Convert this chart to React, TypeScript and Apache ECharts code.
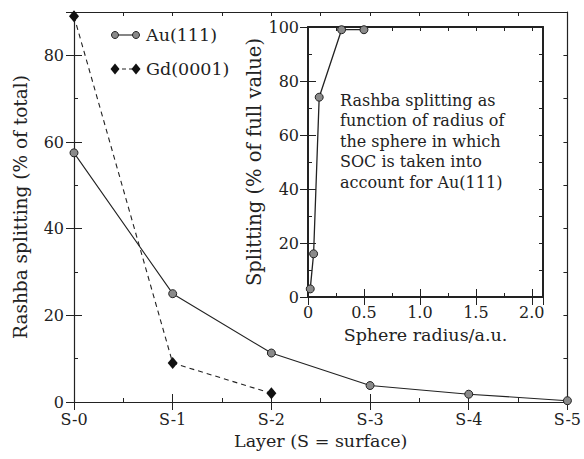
import React, { useEffect, useRef } from "react";
import * as echarts from "echarts";

const layerLabels = ["S-0", "S-1", "S-2", "S-3", "S-4", "S-5"];
const auLayers = [0, 1, 2, 3, 4, 5];
const auValues = [57.5, 25, 11.3, 3.8, 1.8, 0.3];
const gdLayers = [0, 1, 2];
const gdValues = [89, 9, 2];
const sphereRadius = [0.02, 0.05, 0.1, 0.3, 0.5];
const sphereSplitting = [3, 16, 74, 99, 99];

const FONT = "DejaVu Serif";
const INK = "#222";

const mainGrid = { left: 74, right: 14, top: 12, bottom: 57 };
const insetGrid = { left: 308, right: 41, top: 27, bottom: 162 };

function tickAxis(extra: any) {
  return {
    type: "value",
    axisLine: { show: true, onZero: false, lineStyle: { color: INK, width: 1.2 } },
    axisTick: { show: true, inside: true, length: 4, lineStyle: { color: INK, width: 1 } },
    axisLabel: { show: false },
    splitLine: { show: false },
    ...extra,
  };
}

export default function App() {
  const ref = useRef<HTMLDivElement>(null);
  useEffect(() => {
    if (!ref.current) return;
    const chart = echarts.init(ref.current, undefined, { renderer: "svg" });
    const lbl = { show: true, color: INK, fontFamily: FONT, fontSize: 16 };
    const nameStyle = (size: number) => ({ color: INK, fontFamily: FONT, fontSize: size });
    const option: any = {
      animation: false,
      backgroundColor: "#fff",
      textStyle: { fontFamily: FONT },
      grid: [
        { ...mainGrid, containLabel: false },
        { ...insetGrid, containLabel: false },
      ],
      xAxis: [
        tickAxis({ gridIndex: 0, position: "bottom", min: 0, max: 5, interval: 0.5 }),
        tickAxis({
          gridIndex: 0, position: "bottom", min: 0, max: 5, interval: 1,
          axisLine: { show: false },
          axisTick: { show: true, inside: true, length: 8, lineStyle: { color: INK } },
          axisLabel: { ...lbl, margin: 9, formatter: (v: number) => layerLabels[v] ?? "" },
          name: "Layer (S = surface)", nameLocation: "middle", nameGap: 30,
          nameTextStyle: nameStyle(17.5),
        }),
        tickAxis({ gridIndex: 0, position: "top", min: 0, max: 5, interval: 0.5 }),
        tickAxis({
          gridIndex: 0, position: "top", min: 0, max: 5, interval: 1,
          axisLine: { show: false },
          axisTick: { show: true, inside: true, length: 8, lineStyle: { color: INK } },
        }),
        tickAxis({
          gridIndex: 1, position: "bottom", min: 0, max: 2.1, interval: 0.25,
          axisLine: { show: true, onZero: false, lineStyle: { color: INK, width: 2 } },
        }),
        tickAxis({
          gridIndex: 1, position: "bottom", min: 0, max: 2.1, interval: 0.5,
          axisLine: { show: false },
          axisTick: { show: true, inside: true, length: 8, lineStyle: { color: INK } },
          axisLabel: {
            ...lbl, margin: 7, showMaxLabel: false,
            formatter: (v: number) => (Math.abs(v * 2 - Math.round(v * 2)) > 1e-6 ? "" : v === 0 ? "0" : v.toFixed(1)),
          },
          name: "Sphere radius/a.u.", nameLocation: "middle", nameGap: 29,
          nameTextStyle: nameStyle(17.5),
        }),
        tickAxis({
          gridIndex: 1, position: "top", min: 0, max: 2.1, interval: 0.25,
          axisLine: { show: true, onZero: false, lineStyle: { color: INK, width: 2 } },
        }),
        tickAxis({
          gridIndex: 1, position: "top", min: 0, max: 2.1, interval: 0.5,
          axisLine: { show: false },
          axisTick: { show: true, inside: true, length: 8, lineStyle: { color: INK } },
        }),
      ],
      yAxis: [
        tickAxis({ gridIndex: 0, position: "left", min: 0, max: 90, interval: 10 }),
        tickAxis({
          gridIndex: 0, position: "left", min: 0, max: 90, interval: 20,
          axisLine: { show: false },
          axisTick: { show: true, inside: true, length: 8, lineStyle: { color: INK } },
          axisLabel: { ...lbl, margin: 10, showMaxLabel: false, formatter: (v: number) => (v % 20 === 0 ? String(v) : "") },
          name: "Rashba splitting (% of total)", nameLocation: "middle", nameGap: 44,
          nameTextStyle: nameStyle(18.5),
        }),
        tickAxis({ gridIndex: 0, position: "right", min: 0, max: 90, interval: 10 }),
        tickAxis({
          gridIndex: 0, position: "right", min: 0, max: 90, interval: 20,
          axisLine: { show: false },
          axisTick: { show: true, inside: true, length: 8, lineStyle: { color: INK } },
        }),
        tickAxis({
          gridIndex: 1, position: "left", min: 0, max: 100, interval: 10,
          axisLine: { show: true, onZero: false, lineStyle: { color: INK, width: 2 } },
        }),
        tickAxis({
          gridIndex: 1, position: "left", min: 0, max: 100, interval: 20,
          axisLine: { show: false },
          axisTick: { show: true, inside: true, length: 8, lineStyle: { color: INK } },
          axisLabel: { ...lbl, margin: 9 },
          name: "Splitting (% of full value)", nameLocation: "middle", nameGap: 44,
          nameTextStyle: nameStyle(19.5),
        }),
        tickAxis({
          gridIndex: 1, position: "right", min: 0, max: 100, interval: 10,
          axisLine: { show: true, onZero: false, lineStyle: { color: INK, width: 2 } },
        }),
        tickAxis({
          gridIndex: 1, position: "right", min: 0, max: 100, interval: 20,
          axisLine: { show: false },
          axisTick: { show: true, inside: true, length: 8, lineStyle: { color: INK } },
        }),
      ],
      series: [
        {
          name: "Au(111)", type: "line", xAxisIndex: 1, yAxisIndex: 1, clip: false,
          data: auLayers.map((x, i) => [x, auValues[i]]),
          lineStyle: { color: INK, width: 1.1 },
          symbol: "circle", symbolSize: 8,
          itemStyle: { color: "#8a8a8a", borderColor: INK, borderWidth: 1 },
          z: 3,
        },
        {
          name: "Gd(0001)", type: "line", xAxisIndex: 1, yAxisIndex: 1, clip: false,
          data: gdLayers.map((x, i) => [x, gdValues[i]]),
          lineStyle: { color: INK, width: 1.1, type: [5, 4] },
          symbol: "diamond", symbolSize: [10, 12],
          itemStyle: { color: "#111" },
          z: 3,
        },
        {
          name: "Inset Au(111)", type: "line", xAxisIndex: 5, yAxisIndex: 5, clip: false,
          data: sphereRadius.map((x, i) => [x, sphereSplitting[i]]),
          lineStyle: { color: INK, width: 1.3 },
          symbol: "circle", symbolSize: 8,
          itemStyle: { color: "#8a8a8a", borderColor: INK, borderWidth: 1 },
          z: 3,
        },
      ],
      graphic: [
        { type: "line", shape: { x1: 115, y1: 35, x2: 136, y2: 35 }, style: { stroke: INK, lineWidth: 1.1 } },
        { type: "circle", shape: { cx: 115, cy: 35, r: 3.5 }, style: { fill: "#8a8a8a", stroke: INK, lineWidth: 1 } },
        { type: "circle", shape: { cx: 136, cy: 35, r: 3.5 }, style: { fill: "#8a8a8a", stroke: INK, lineWidth: 1 } },
        { type: "text", x: 146, y: 35, style: { text: "Au(111)", font: `17.5px "${FONT}"`, fill: INK, verticalAlign: "middle" } },
        { type: "line", shape: { x1: 115, y1: 69, x2: 136, y2: 69 }, style: { stroke: INK, lineWidth: 1.1, lineDash: [4, 3] } },
        { type: "polygon", shape: { points: [[115, 63.5], [119.5, 69], [115, 74.5], [110.5, 69]] }, style: { fill: "#111" } },
        { type: "polygon", shape: { points: [[136, 63.5], [140.5, 69], [136, 74.5], [131.5, 69]] }, style: { fill: "#111" } },
        { type: "text", x: 146, y: 69, style: { text: "Gd(0001)", font: `17.5px "${FONT}"`, fill: INK, verticalAlign: "middle" } },
        {
          type: "text", x: 340, y: 90,
          style: {
            text: "Rashba splitting as\nfunction of radius of\nthe sphere in which\nSOC is taken into\naccount for Au(111)",
            font: `16px "${FONT}"`, fill: INK, lineHeight: 20.5,
          },
        },
      ],
    };
    chart.setOption(option);
    return () => chart.dispose();
  }, []);
  return <div ref={ref} style={{ width: 584, height: 459, position: "absolute", left: 0, top: 0 }} />;
}
